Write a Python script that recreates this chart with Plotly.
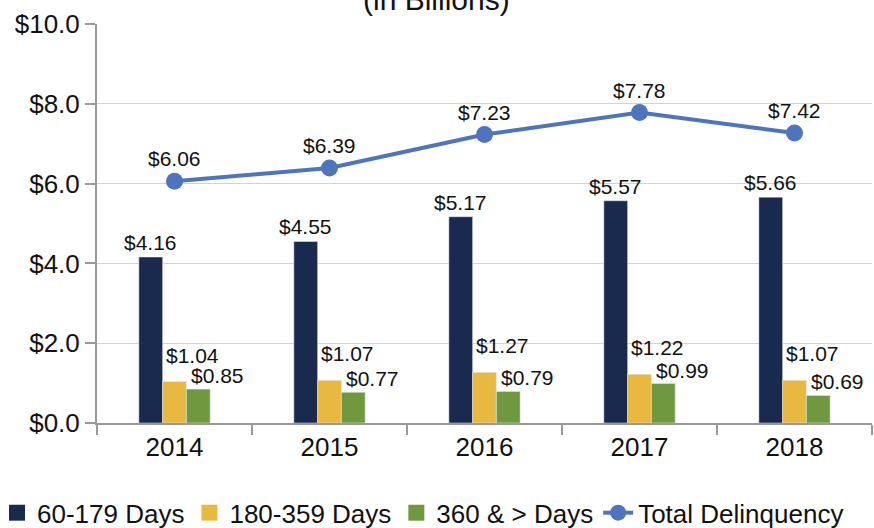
import plotly.graph_objects as go

years = ["2014", "2015", "2016", "2017", "2018"]
days_60_179 = [4.16, 4.55, 5.17, 5.57, 5.66]
days_180_359 = [1.04, 1.07, 1.27, 1.22, 1.07]
days_360_plus = [0.85, 0.77, 0.79, 0.99, 0.69]
total_delinquency = [6.06, 6.39, 7.23, 7.78, 7.27]
total_labels = ["$6.06", "$6.39", "$7.23", "$7.78", "$7.42"]

NAVY = "#1a2a4f"
YELLOW = "#e9b840"
GREEN = "#6f983f"
BLUE = "#4f74be"
FONT = "Liberation Sans, Arial, sans-serif"

fig = go.Figure()

for serie, nombre, color in [(days_60_179, "60-179 Days", NAVY),
                             (days_180_359, "180-359 Days", YELLOW),
                             (days_360_plus, "360 & > Days", GREEN)]:
    fig.add_trace(go.Bar(x=years, y=serie, name=nombre, marker_color=color, showlegend=False))
    # entrada de leyenda con cuadrado grande
    fig.add_trace(go.Scatter(
        x=[None], y=[None], mode="markers", name=nombre,
        marker=dict(symbol="square", size=20, color=color),
    ))

fig.add_trace(go.Scatter(
    x=years, y=total_delinquency, name="Total Delinquency",
    mode="lines+markers",
    line=dict(color=BLUE, width=4),
    marker=dict(size=17, color=BLUE),
))

# etiquetas de datos (estilo Excel); x por índice de categoría
for serie, dx, dy in [(days_60_179, -24, 1), (days_180_359, 18, 13), (days_360_plus, 43, 0)]:
    for i, v in enumerate(serie):
        fig.add_annotation(
            x=i, y=v, text=f"${v:.2f}", showarrow=False,
            xshift=dx, yshift=dy, yanchor="bottom",
            font=dict(size=21, color="#111", family=FONT),
        )
for i, (v, t) in enumerate(zip(total_delinquency, total_labels)):
    fig.add_annotation(
        x=i, y=v, text=t, showarrow=False, yshift=9, yanchor="bottom",
        font=dict(size=21, color="#111", family=FONT),
    )

fig.add_annotation(
    xref="paper", yref="paper", x=0.438, y=1.0, yshift=6, xanchor="center", yanchor="bottom",
    text="(in Billions)", showarrow=False, font=dict(size=30, color="#111", family=FONT),
)

fig.update_layout(
    width=874, height=528,
    barmode="group", bargap=0.54, bargroupgap=0,
    plot_bgcolor="white", paper_bgcolor="white",
    font=dict(family=FONT, color="#111"),
    margin=dict(l=97, r=2, t=24, b=105, autoexpand=False),
    showlegend=True,
    legend=dict(
        orientation="h", x=-0.129, xanchor="left", y=-0.225, yanchor="middle",
        font=dict(size=26, family=FONT), itemwidth=30, tracegroupgap=0,
        bgcolor="rgba(0,0,0,0)",
    ),
    xaxis=dict(
        type="category", range=[-0.5, 4.5], automargin=False,
        showline=True, linecolor="#999", linewidth=2,
        ticks="outside", tickson="boundaries", ticklen=10, tickcolor="#999", tickwidth=2,
        tickfont=dict(size=26), showgrid=False,
    ),
    yaxis=dict(
        range=[0, 10], dtick=2, tickprefix="$", tickformat=".1f", automargin=False,
        showline=True, linecolor="#999", linewidth=2,
        ticks="outside", ticklen=10, tickcolor="#999", tickwidth=2,
        gridcolor="#c8d6e2", gridwidth=1, tickfont=dict(size=26), zeroline=False,
    ),
)

# quitar el margen por defecto del <body> para que la figura empiece en (0, 0)
fig.write_html("out.html", config={"displayModeBar": False},
               post_script="document.body.style.margin='0';")
